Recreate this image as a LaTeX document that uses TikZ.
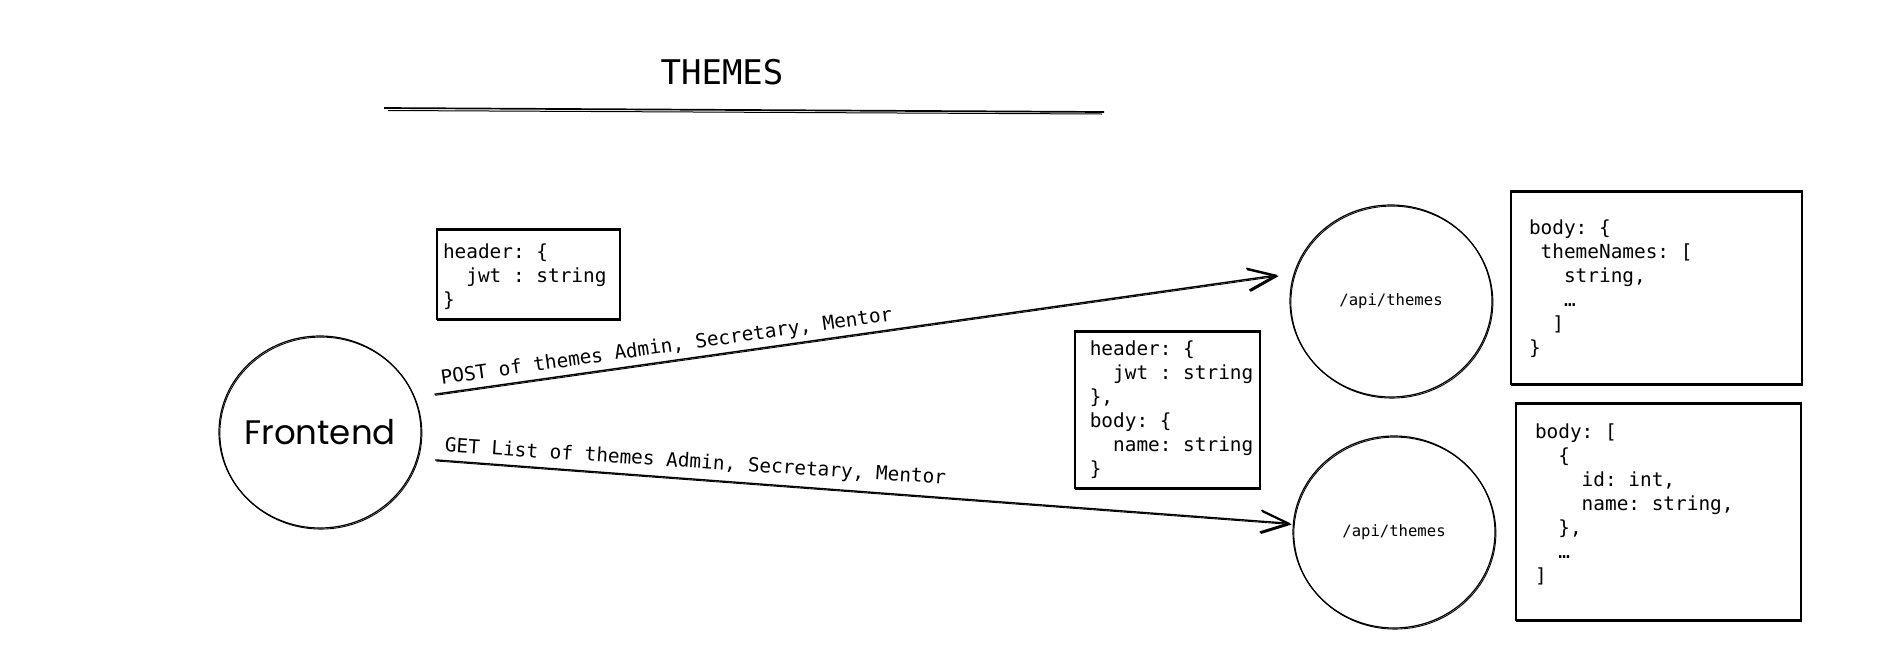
\documentclass[tikz,border=0pt]{standalone}
\usepackage{fontspec}
\setmonofont{DejaVu Sans Mono}
\newfontfamily\handfont{Poppins}
\usetikzlibrary{arrows.meta,shapes.geometric}
\newcommand\codefont{\ttfamily\fontsize{19.4}{24}\selectfont}
\begin{document}
\begin{tikzpicture}[x=1pt,y=-1pt,
  sk/.style={postaction={draw, line width=0.9pt, transform canvas={shift={(0.9pt,-1.1pt)}}}},
  circ/.style={ellipse, draw, line width=1.2pt, minimum width=202pt, minimum height=192pt, inner sep=0pt, sk},
  codebox/.style={draw, line width=1.9pt, inner sep=0pt, sk},
  codetxt/.style={font=\codefont, inner sep=0pt, anchor=west, align=left},
  conn/.style={line width=1.4pt, -{Straight Barb[length=28pt,width=22pt,line width=1.6pt]}, sk},
  lbl/.style={font=\codefont, pos=0, anchor=south west, inner xsep=8pt, inner ysep=4pt}
]
\useasboundingbox (0,0) rectangle (1881,646);
\fill[white] (0,0) rectangle (1881,646);

% title
\node[font=\ttfamily\fontsize{34}{40}\selectfont, inner sep=0pt] (title) at (722,72) {THEMES};
\draw[line width=1.7pt] (384,108) -- (1104,112);
\draw[line width=1pt] (388,110.5) -- (1102,114);

% circles
\node[circ, font=\handfont\fontsize{34}{40}\selectfont] (fe) at (320,432) {\makebox[0pt]{Frontend}};
\node[circ, font=\ttfamily\fontsize{15.6}{18}\selectfont] (api1) at (1391,301) {/api/themes};
\node[circ, font=\ttfamily\fontsize{15.6}{18}\selectfont] (api2) at (1394,532) {/api/themes};

% boxes
\node[codebox, minimum width=183pt, minimum height=90pt] (h1) at (528.5,274) {};
\node[codetxt] (h1t) at (442.8,277) {header: \{\\\hphantom{00}jwt : string\\\}};

\node[codebox, minimum width=185pt, minimum height=157pt] (h2) at (1167.5,409.5) {};
\node[codetxt] (h2t) at (1089.6,410) {header: \{\\\hphantom{00}jwt : string\\\},\\body: \{\\\hphantom{00}name: string\\\}};

\node[codebox, minimum width=291pt, minimum height=193pt] (b1) at (1656.5,287.5) {};
\node[codetxt] (b1t) at (1528.8,288.5) {body: \{\\\hphantom{0}themeNames: [\\\hphantom{000}string,\\\hphantom{000}…\\\hphantom{00}]\\\}};

\node[codebox, minimum width=285pt, minimum height=217pt] (b2) at (1658.5,511.5) {};
\node[codetxt] (b2t) at (1534.8,504) {body: [\\\hphantom{00}\{\\\hphantom{0000}id: int,\\\hphantom{0000}name: string,\\\hphantom{00}\},\\\hphantom{00}…\\]};

% connectors
\draw[conn] ([xshift=21pt]fe.22) -- node[lbl, sloped] (l1) {POST of themes Admin, Secretary, Mentor} ([xshift=-15pt,yshift=1.5pt]api1.166);
\draw[conn] ([xshift=18pt]fe.-16) -- node[lbl, rotate=-3.7] (l2) {GET List of themes Admin, Secretary, Mentor} ([xshift=-2pt,yshift=1.5pt]api2.176);
\end{tikzpicture}
\end{document}
